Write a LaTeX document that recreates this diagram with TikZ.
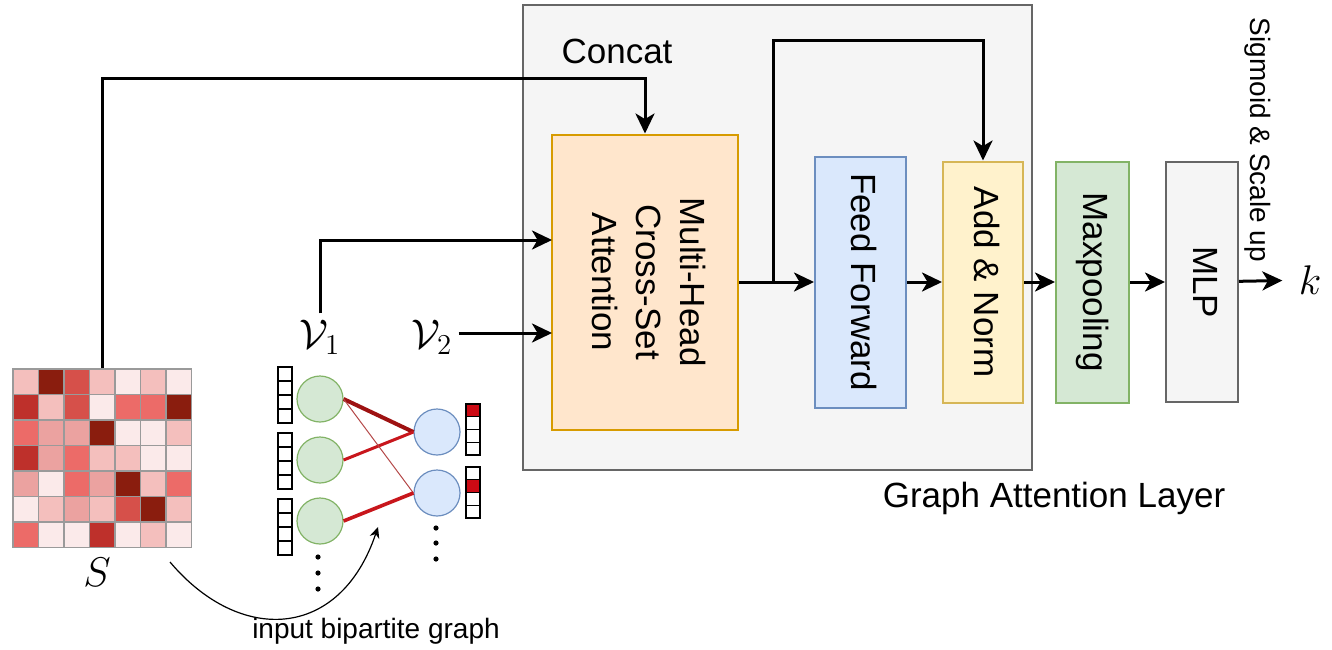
\documentclass[tikz,border=0pt]{standalone}
\usepackage{fontspec}
\setmainfont{Liberation Sans}
\usepackage{graphicx}
\usetikzlibrary{arrows.meta}

\definecolor{frameline}{HTML}{666666}
\definecolor{framefill}{HTML}{F5F5F5}
\definecolor{orangefill}{HTML}{FFE6CC}
\definecolor{orangeline}{HTML}{D79B00}
\definecolor{bluefill}{HTML}{DAE8FC}
\definecolor{blueline}{HTML}{6C8EBF}
\definecolor{yellowfill}{HTML}{FFF2CC}
\definecolor{yellowline}{HTML}{D6B656}
\definecolor{greenfill}{HTML}{D5E8D4}
\definecolor{greenline}{HTML}{82B366}
\definecolor{gridline}{HTML}{9A9A9A}
\definecolor{hotred}{HTML}{CC0A14}
\definecolor{edgedark}{HTML}{9E1212}
\definecolor{edgemid}{HTML}{C8161C}
\definecolor{edgethin}{HTML}{B44848}
\definecolor{mat0}{HTML}{FBEAEA}
\definecolor{mat1}{HTML}{F4BFBD}
\definecolor{mat2}{HTML}{EBA2A0}
\definecolor{mat3}{HTML}{EC6B68}
\definecolor{mat4}{HTML}{D6504A}
\definecolor{mat5}{HTML}{BE302B}
\definecolor{mat6}{HTML}{8A1D0E}

\newcommand{\boxfont}{\fontsize{17.5}{22}\selectfont}
\newcommand{\smallfont}{\fontsize{14}{17}\selectfont}
\newcommand{\mathfont}{\fontsize{20}{24}\selectfont}
\newcommand{\vlabel}[1]{\rotatebox{-90}{\begin{tabular}{@{}c@{}}#1\end{tabular}}}

\tikzset{
  block/.style={draw, line width=1pt, inner sep=0pt, font=\boxfont},
  flow/.style={-{Stealth[length=10pt,width=9.5pt,inset=2.8pt]}, line width=1.5pt},
  vnode/.style={circle, minimum size=23pt, inner sep=0pt, line width=0.6pt},
  vec/.style={draw, line width=0.7pt, fill=white},
  mathlab/.style={font=\mathfont, inner sep=3pt},
}

\begin{document}
\begin{tikzpicture}[x=0.5pt, y=-0.5pt]
\useasboundingbox (0,0) rectangle (1332,649);

% graph attention layer
\node (gal) at (777.5,237.5) [block, fill=framefill, draw=frameline, minimum width=254.5pt, minimum height=232.5pt] {};
\node (galtxt) at (1054,498) [font=\boxfont] {Graph Attention Layer};
\node (concat) at (617,51) [font=\boxfont] {Concat};

\node (mha) at (645,282) [block, fill=orangefill, draw=orangeline, minimum width=93pt, minimum height=147.5pt] {\vlabel{Multi-Head\\Cross-Set\\Attention}};
\node (ff) at (860.5,282) [block, fill=bluefill, draw=blueline, minimum width=45.5pt, minimum height=125.5pt] {\vlabel{Feed Forward}};
\node (an) at (983,282) [block, fill=yellowfill, draw=yellowline, minimum width=40pt, minimum height=120.5pt] {\vlabel{Add \& Norm}};
\node (mp) at (1092.5,282) [block, fill=greenfill, draw=greenline, minimum width=36.5pt, minimum height=120.5pt] {\vlabel{Maxpooling}};
\node (mlp) at (1202,282) [block, fill=framefill, draw=frameline, minimum width=36pt, minimum height=120pt] {\vlabel{MLP}};
\node (k) at (1310,280) [mathlab, inner sep=1pt] {$k$};
\node (sig) at (1258,140) [font=\smallfont] {\rotatebox{-90}{Sigmoid \& Scale up}};

\draw[flow] (mha) -- (ff);
\draw[flow] (ff) -- (an);
\draw[flow] (an) -- (mp);
\draw[flow] (mp) -- (mlp);
\draw[flow, shorten >=7pt] (mlp) -- (k);

\coordinate (split) at (773,282);
\coordinate (res) at (773,40);
\draw[flow] (split) -- (res) -| (an.north);

% similarity matrix
\foreach \rowlist [count=\r from 0] in {{1,6,4,1,0,1,0},{5,1,4,0,3,3,6},{3,2,2,6,0,0,1},{5,2,3,1,1,0,0},{2,0,3,2,6,1,3},{0,1,2,1,4,6,1},{3,0,0,5,0,1,0}}
  \foreach \v [count=\q from 0] in \rowlist
    \filldraw[fill=mat\v, draw=gridline, line width=0.8pt] (13+\q*25.5,369+\r*25.5) rectangle ++(25.5,25.5);
\node (mat) at (102.25,458.25) [draw=gridline, line width=0.8pt, minimum width=89.25pt, minimum height=89.25pt, inner sep=0pt] {};
\node (slab) at (97,572) [mathlab] {$S$};

\coordinate (cc) at (645,78);
\draw[flow] (mat.north) |- (cc) -- (mha.north);

% bipartite graph
\node (g1) at (320,399) [vnode, draw=greenline, fill=greenfill] {};
\node (g2) at (320,460) [vnode, draw=greenline, fill=greenfill] {};
\node (g3) at (320,521) [vnode, draw=greenline, fill=greenfill] {};
\node (b1) at (437,432) [vnode, draw=blueline, fill=bluefill] {};
\node (b2) at (437,493) [vnode, draw=blueline, fill=bluefill] {};

\draw[line width=2pt, draw=edgedark] (g1.east) -- (b1.west);
\draw[line width=1.5pt, draw=edgemid] (g2.east) -- (b1.west);
\draw[line width=0.5pt, draw=edgethin] (g1.east) -- (b2.west);
\draw[line width=1.8pt, draw=edgemid] (g3.east) -- (b2.west);

\foreach \ytop in {367,433,499}
  \foreach \i in {0,...,3}
    \draw[vec] (278,\ytop+\i*14) rectangle ++(14,14);
\foreach \ytop in {404,467}
  \foreach \i in {0,...,3}
    \draw[vec] (466,\ytop+\i*12.75) rectangle ++(14,12.75);
\draw[vec, fill=hotred] (466,404) rectangle ++(14,12.75);
\draw[vec, fill=hotred] (466,479.75) rectangle ++(14,12.75);

\foreach \yy in {557,573,589} \fill (318,\yy) circle[radius=1.3pt];
\foreach \yy in {528,543,559} \fill (436,\yy) circle[radius=1.3pt];

\node (v1lab) at (320,337) [mathlab] {$\mathcal{V}_1$};
\node (v2lab) at (432,337) [mathlab] {$\mathcal{V}_2$};
\coordinate (v1in) at (552,240);
\coordinate (v2in) at (552,333);
\draw[flow] (v1lab.north) |- (v1in);
\draw[flow] (v2lab.east |- v2in) -- (v2in);

\coordinate (cs) at (170,562);
\coordinate (ce) at (378,527);
\draw[-{Stealth[length=5.5pt,width=5pt]}, line width=0.6pt] (cs) .. controls (240,645) and (340,640) .. (ce);
\node (inlab) at (376,631) [font=\smallfont] {input bipartite graph};
\end{tikzpicture}
\end{document}
